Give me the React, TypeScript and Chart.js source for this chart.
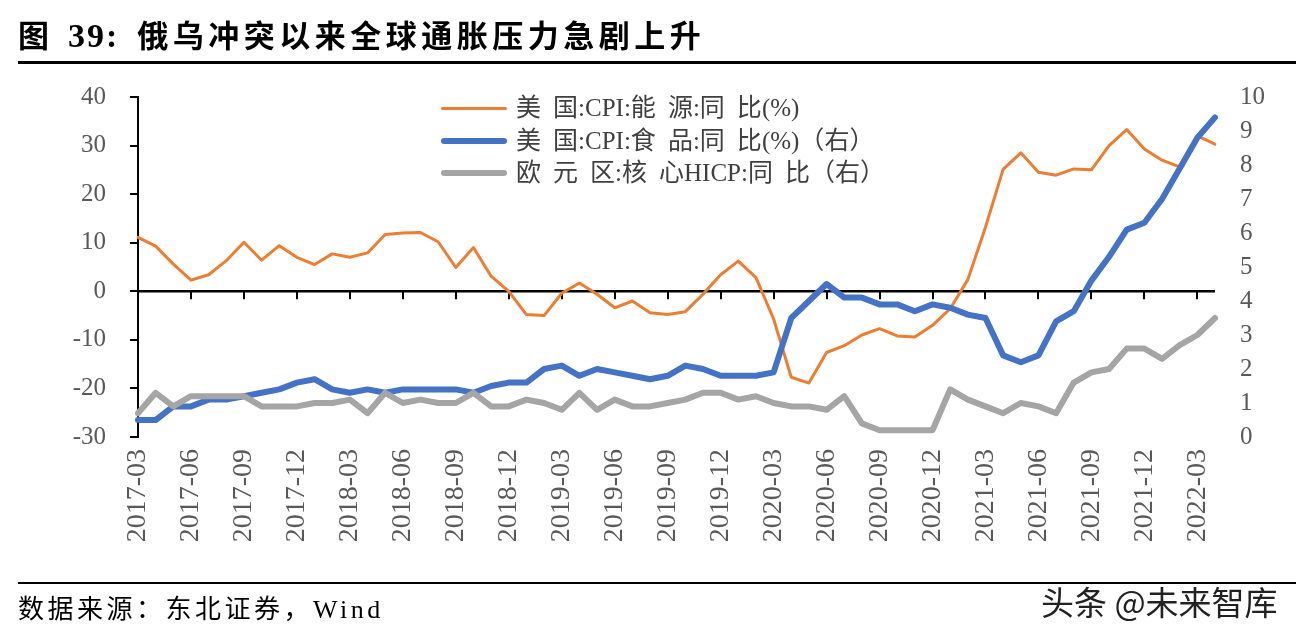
import React, { useEffect, useRef } from "react";
import { Chart, registerables } from "chart.js";

Chart.register(...registerables);

const months: string[] = [];
for (let y = 2017; y <= 2022; y++) {
  for (let m = 1; m <= 12; m++) {
    if ((y === 2017 && m < 3) || (y === 2022 && m > 4)) continue;
    months.push(`${y}-${String(m).padStart(2, "0")}`);
  }
}

const usEnergy = [
  11.1, 9.3, 5.6, 2.3, 3.4, 6.3, 10.1, 6.4, 9.4, 7.0, 5.5, 7.7, 7.0, 7.9, 11.7, 12.0, 12.1, 10.2, 4.9, 9.0,
  3.1, 0.0, -4.8, -5.0, -0.4, 1.7, -0.6, -3.4, -2.0, -4.4, -4.8, -4.2, -0.6, 3.4, 6.2, 2.8, -5.7, -17.7, -18.9, -12.6,
  -11.2, -9.0, -7.7, -9.2, -9.4, -7.0, -3.6, 2.4, 13.2, 25.1, 28.5, 24.5, 23.9, 25.2, 25.0, 30.0, 33.3, 29.3, 27.0, 25.6,
  32.0, 30.3,
];

const usFood = [
  0.5, 0.5, 0.9, 0.9, 1.1, 1.1, 1.2, 1.3, 1.4, 1.6, 1.7, 1.4, 1.3, 1.4, 1.3, 1.4, 1.4, 1.4, 1.4, 1.3,
  1.5, 1.6, 1.6, 2.0, 2.1, 1.8, 2.0, 1.9, 1.8, 1.7, 1.8, 2.1, 2.0, 1.8, 1.8, 1.8, 1.9, 3.5, 4.0, 4.5,
  4.1, 4.1, 3.9, 3.9, 3.7, 3.9, 3.8, 3.6, 3.5, 2.4, 2.2, 2.4, 3.4, 3.7, 4.6, 5.3, 6.1, 6.3, 7.0, 7.9,
  8.8, 9.4,
];

const euroCore = [
  0.7, 1.3, 0.9, 1.2, 1.2, 1.2, 1.2, 0.9, 0.9, 0.9, 1.0, 1.0, 1.1, 0.7, 1.3, 1.0, 1.1, 1.0, 1.0, 1.3,
  0.9, 0.9, 1.1, 1.0, 0.8, 1.3, 0.8, 1.1, 0.9, 0.9, 1.0, 1.1, 1.3, 1.3, 1.1, 1.2, 1.0, 0.9, 0.9, 0.8,
  1.2, 0.4, 0.2, 0.2, 0.2, 0.2, 1.4, 1.1, 0.9, 0.7, 1.0, 0.9, 0.7, 1.6, 1.9, 2.0, 2.6, 2.6, 2.3, 2.7,
  3.0, 3.5,
];

const seriesNames = ["美国:CPI:能源:同比(%)", "美国:CPI:食品:同比(%)（右）", "欧元区:核心HICP:同比（右）"];
const seriesColors = ["#ED7D31", "#4472C4", "#A5A5A5"];
const seriesWidths = [3, 6, 6];

const W = 1296;
const H = 634;
const AREA_LEFT = 138;
const AREA_RIGHT = 1215;
const AREA_TOP = 97;
const AREA_BOTTOM = 437;

const serif = "'Liberation Serif', 'Noto Sans CJK SC', serif";

const zeroAxisPlugin = {
  id: "zeroAxis",
  beforeDatasetsDraw(chart: any) {
    const { ctx, chartArea, scales } = chart;
    const y0 = scales.y.getPixelForValue(0);
    ctx.save();
    ctx.strokeStyle = "#000";
    ctx.lineWidth = 2.5;
    ctx.beginPath();
    ctx.moveTo(chartArea.left, y0);
    ctx.lineTo(chartArea.right, y0);
    ctx.stroke();
    ctx.lineWidth = 2;
    for (let i = 3; i < months.length; i += 3) {
      const x = Math.round(scales.x.getPixelForValue(i));
      ctx.beginPath();
      ctx.moveTo(x, y0);
      ctx.lineTo(x, y0 + 8);
      ctx.stroke();
    }
    ctx.restore();
  },
};

// ideographs followed by another ideograph get extra spacing
function spacedText(text: string, spacing: number) {
  const chars = Array.from(text);
  const isCjk = (c: string | undefined) => !!c && /[\u4e00-\u9fff]/.test(c);
  return chars.map((c, i) => (
    <span key={i} style={isCjk(c) && isCjk(chars[i + 1]) ? { marginRight: spacing } : undefined}>
      {c}
    </span>
  ));
}

export default function App() {
  const canvasRef = useRef<HTMLCanvasElement | null>(null);

  useEffect(() => {
    if (!canvasRef.current) return;
    const chart = new Chart(canvasRef.current, {
      type: "line",
      data: {
        labels: months,
        datasets: [
          {
            label: seriesNames[0],
            data: usEnergy,
            borderColor: seriesColors[0],
            backgroundColor: seriesColors[0],
            borderWidth: seriesWidths[0],
            yAxisID: "y",
            order: 3,
          },
          {
            label: seriesNames[1],
            data: usFood,
            borderColor: seriesColors[1],
            backgroundColor: seriesColors[1],
            borderWidth: seriesWidths[1],
            yAxisID: "y2",
            order: 2,
          },
          {
            label: seriesNames[2],
            data: euroCore,
            borderColor: seriesColors[2],
            backgroundColor: seriesColors[2],
            borderWidth: seriesWidths[2],
            yAxisID: "y2",
            order: 1,
          },
        ],
      },
      options: {
        responsive: false,
        animation: false,
        devicePixelRatio: 1,
        layout: { padding: { left: 0, right: 0, top: AREA_TOP, bottom: 0 } },
        elements: {
          point: { radius: 0, hoverRadius: 0 },
          line: { tension: 0, borderJoinStyle: "round", borderCapStyle: "round" },
        },
        plugins: {
          legend: { display: false },
          tooltip: { enabled: false },
        },
        scales: {
          x: {
            type: "category",
            offset: false,
            grid: { display: false, drawTicks: false },
            border: { display: false },
            ticks: {
              autoSkip: false,
              minRotation: 90,
              maxRotation: 90,
              padding: 12,
              color: "#595959",
              font: { family: serif, size: 28 },
              callback: (_v: any, i: number) => (i % 3 === 0 ? months[i] : ""),
            },
            afterFit: (s: any) => {
              s.height = H - AREA_BOTTOM;
            },
          },
          y: {
            position: "left",
            min: -30,
            max: 40,
            grid: {
              drawOnChartArea: false,
              drawTicks: true,
              tickLength: 8,
              color: "#000",
              lineWidth: 2,
            },
            border: { display: true, color: "#000", width: 2 },
            ticks: {
              stepSize: 10,
              padding: 24,
              color: "#595959",
              font: { family: serif, size: 25 },
            },
            afterFit: (s: any) => {
              s.width = AREA_LEFT;
            },
          },
          y2: {
            position: "right",
            min: 0,
            max: 10,
            grid: { display: false, drawTicks: false },
            border: { display: false },
            ticks: {
              stepSize: 1,
              padding: 25,
              color: "#595959",
              font: { family: serif, size: 25 },
            },
            afterFit: (s: any) => {
              s.width = W - AREA_RIGHT;
            },
          },
        },
      },
      plugins: [zeroAxisPlugin],
    });
    return () => chart.destroy();
  }, []);

  const legendRows = [108, 141, 173];

  return (
    <div style={{ position: "absolute", left: 0, top: 0, width: W, height: H, background: "#fff", overflow: "hidden" }}>
      <canvas ref={canvasRef} width={W} height={H} style={{ position: "absolute", left: 0, top: 0, width: W, height: H }} />
      <div
        style={{
          position: "absolute",
          left: 18,
          top: 18,
          fontFamily: serif,
          fontWeight: "bold",
          fontSize: 31,
          lineHeight: "36px",
          color: "#000",
          whiteSpace: "nowrap",
        }}
      >
        <span>图</span>
        <span style={{ marginLeft: 19, fontSize: 34, letterSpacing: 2 }}>39:</span>
        <span style={{ marginLeft: 18, letterSpacing: 4.5 }}>俄乌冲突以来全球通胀压力急剧上升</span>
      </div>
      <div style={{ position: "absolute", left: 18, top: 61, width: W - 18, height: 3, background: "#000" }} />
      {seriesNames.map((name, i) => (
        <div key={name} style={{ position: "absolute", left: 441, top: legendRows[i] - 16, height: 32, display: "flex", alignItems: "center" }}>
          <div
            style={{
              width: 66,
              height: seriesWidths[i],
              borderRadius: seriesWidths[i] / 2,
              background: seriesColors[i],
            }}
          />
          <span
            style={{
              marginLeft: 9,
              fontFamily: serif,
              fontSize: 25,
              color: "#404040",
              whiteSpace: "nowrap",
              lineHeight: "32px",
            }}
          >
            {spacedText(name, 12)}
          </span>
        </div>
      ))}
      <div style={{ position: "absolute", left: 18, top: 582, width: W - 18, height: 2, background: "#000" }} />
      <div
        style={{
          position: "absolute",
          left: 18,
          top: 594,
          fontFamily: serif,
          fontSize: 26,
          letterSpacing: 3.5,
          lineHeight: "32px",
          color: "#000",
          whiteSpace: "nowrap",
        }}
      >
        数据来源：东北证券，Wind
      </div>
      <div
        style={{
          position: "absolute",
          left: 1041,
          top: 581,
          fontFamily: "'Noto Sans CJK SC', sans-serif",
          fontSize: 33,
          lineHeight: "40px",
          color: "#222",
          whiteSpace: "nowrap",
          textShadow: "0 0 2px #fff, 0 0 2px #fff, 1px 1px 1px #fff, -1px -1px 1px #fff",
        }}
      >
        头条 @未来智库
      </div>
    </div>
  );
}
